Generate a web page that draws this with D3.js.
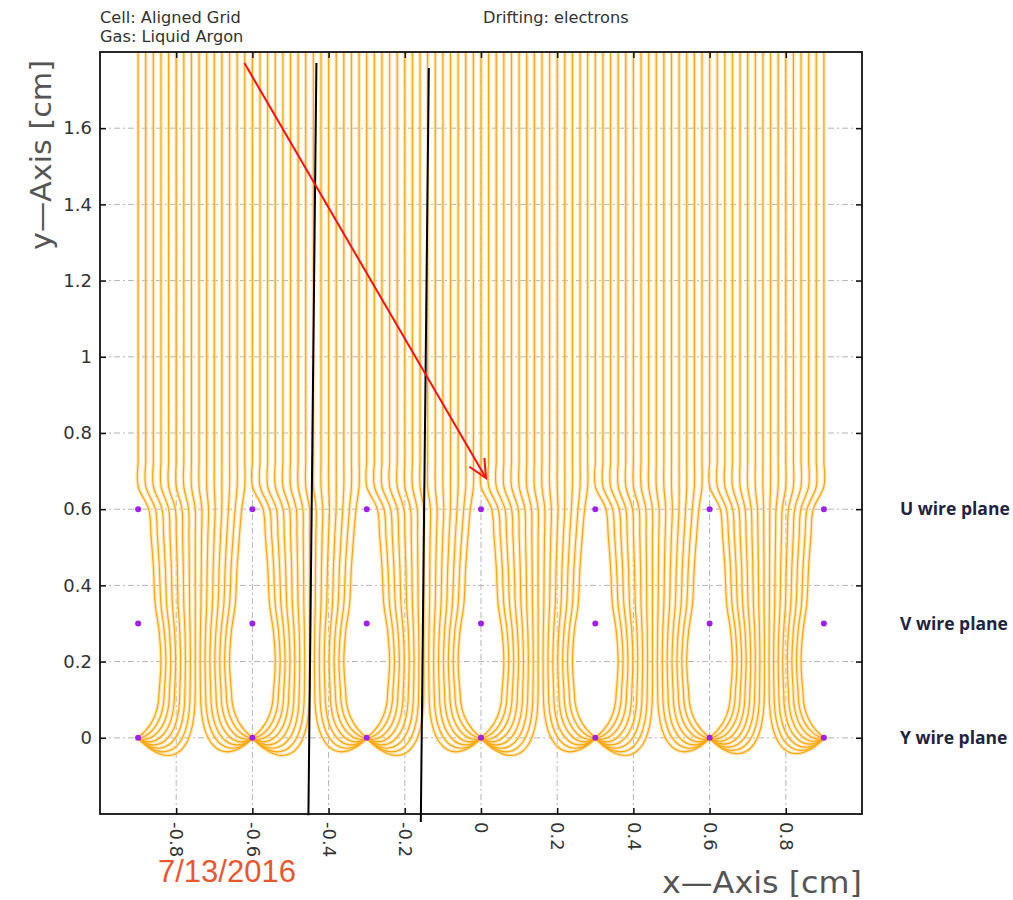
<!DOCTYPE html>
<html>
<head>
<meta charset="utf-8">
<script src="https://cdn.jsdelivr.net/npm/d3@7"></script>
<style>
  body { margin: 0; background: #fff; }
  svg { display: block; }
</style>
</head>
<body>
<svg id="chart" width="1013" height="900"></svg>
<script>
// ---- data -------------------------------------------------------------
const xTicks = [-0.8, -0.6, -0.4, -0.2, 0, 0.2, 0.4, 0.6, 0.8];
const yTicks = [0, 0.2, 0.4, 0.6, 0.8, 1, 1.2, 1.4, 1.6];
const wireX = [-0.9, -0.6, -0.3, 0, 0.3, 0.6, 0.9];
const planeY = [0, 0.3, 0.6];
const planeNames = ["Y wire plane", "V wire plane", "U wire plane"];
// drift line start positions inside one cell (cm right of the cell's left wire)
const cellStartOffsets = [0, 0.02, 0.04, 0.06, 0.08, 0.10, 0.12, 0.14, 0.16, 0.18, 0.20, 0.22, 0.24, 0.26, 0.28];
const lastCellExtraOffsets = [0.30];
const driftTopY = 1.8;
const straightEndY = 0.72;
const bendStartY = 0.66;
// bundle envelope between the wire planes: height and half width (cm)
const envelopeY = [0.60, 0.53, 0.45, 0.35, 0.28, 0.20, 0.12];
const envelopeHalfWidth = [0.122, 0.116, 0.110, 0.105, 0.095, 0.090, 0.095];
const headerLeft = ["Cell: Aligned Grid", "Gas: Liquid Argon"];
const headerRight = "Drifting: electrons";
const arrowX = [-0.621, 0.013];
const arrowY = [1.771, 0.682];
const stripA_X = [-0.432, -0.453];
const stripA_Y = [1.771, -0.203];
const stripB_X = [-0.137, -0.158];
const stripB_Y = [1.758, -0.221];
const dateLabel = "7/13/2016";

// ---- layout -------------------------------------------------------------
const svg = d3.select("#chart");
const x = d3.scaleLinear().domain([-1, 1]).range([100, 862]);
const y = d3.scaleLinear().domain([-0.2, 1.8]).range([814, 52]);
const L = x.range()[0], R = x.range()[1], T = y.range()[1], B = y.range()[0];

svg.append("defs").append("clipPath").attr("id", "plotClip")
  .append("rect").attr("x", L).attr("y", T).attr("width", R - L).attr("height", B - T);

// grid
const grid = svg.append("g").attr("stroke", "#b5b5b5").attr("stroke-width", 1)
  .attr("stroke-dasharray", "6,3,2,3").attr("fill", "none");
grid.selectAll("line.gx").data(xTicks).join("line").attr("class", "gx")
  .attr("x1", d => x(d)).attr("x2", d => x(d)).attr("y1", T).attr("y2", B);
grid.selectAll("line.gy").data(yTicks).join("line").attr("class", "gy")
  .attr("y1", d => y(d)).attr("y2", d => y(d)).attr("x1", L).attr("x2", R);

// drift lines
const cells = d3.range(wireX.length - 1).map(k => ({
  left: wireX[k],
  right: wireX[k + 1],
  offs: k === wireX.length - 2 ? cellStartOffsets.concat(lastCellExtraOffsets) : cellStartOffsets
}));

const bend = d3.line().x(d => x(d[0])).y(d => y(d[1])).curve(d3.curveCatmullRom.alpha(0.5));
const driftPaths = [];
cells.forEach(cell => {
  const n = cell.offs.length;
  const c = (cell.left + cell.right) / 2;
  cell.offs.forEach((o, j) => {
    const x0 = cell.left + o;
    const s = 2 * (j / (n - 1)) - 1;
    const pts = [[x0, straightEndY], [x0, bendStartY]]
      .concat(envelopeY.map((yy, i) => [c + s * envelopeHalfWidth[i], yy]));
    const last = pts[pts.length - 1];
    const xs = last[0];
    const goLeft = s <= 0;
    const wire = goLeft ? cell.left : cell.right;
    const dir = goLeft ? 1 : -1;
    const t = Math.abs(s);
    const dx = Math.abs(xs - wire);
    const top = `M${x(x0)},${y(driftTopY)}`;
    const mid = "L" + bend(pts).slice(1);
    const end = `C${x(xs)},${y(0.04 - 0.115 * (1 - t))},` +
      `${x(wire + dir * dx * (0.2 + 0.25 * (1 - t)))},${y(0.01 - 0.085 * (1 - t))},` +
      `${x(wire)},${y(0)}`;
    driftPaths.push(top + mid + end);
  });
});

const drift = svg.append("g").attr("clip-path", "url(#plotClip)").attr("fill", "none");
drift.selectAll("path.halo").data(driftPaths).join("path").attr("class", "halo")
  .attr("d", d => d).attr("stroke", "#ffd68c").attr("stroke-width", 3.6).attr("stroke-opacity", 0.6);
drift.selectAll("path.core").data(driftPaths).join("path").attr("class", "core")
  .attr("d", d => d).attr("stroke", "#ffa500").attr("stroke-width", 1.15);

// axes (ticks point inward)
const fmt = d => String(d);
const axB = svg.append("g").attr("transform", `translate(0,${B})`)
  .call(d3.axisBottom(x).tickValues(xTicks).tickSizeInner(-6).tickSizeOuter(0).tickFormat(fmt));
axB.selectAll("text")
  .attr("transform", "rotate(90)").attr("y", 0).attr("x", 8).attr("dy", "0.35em")
  .style("text-anchor", "start");
const axT = svg.append("g").attr("transform", `translate(0,${T})`)
  .call(d3.axisTop(x).tickValues(xTicks).tickSizeInner(-6).tickSizeOuter(0).tickFormat(""));
const axL = svg.append("g").attr("transform", `translate(${L},0)`)
  .call(d3.axisLeft(y).tickValues(yTicks).tickSizeInner(-6).tickSizeOuter(0).tickPadding(8).tickFormat(fmt));
const axR = svg.append("g").attr("transform", `translate(${R},0)`)
  .call(d3.axisRight(y).tickValues(yTicks).tickSizeInner(-6).tickSizeOuter(0).tickFormat(""));
[axB, axT, axL, axR].forEach(a => {
  a.select(".domain").remove();
  a.selectAll(".tick line").attr("stroke", "#111").attr("stroke-width", 1.5);
  a.selectAll("text").attr("font-family", "DejaVu Sans").attr("font-size", 18).attr("fill", "#333");
});

svg.append("rect").attr("x", L).attr("y", T).attr("width", R - L).attr("height", B - T)
  .attr("fill", "none").attr("stroke", "#111").attr("stroke-width", 1.8);

// wires
const wires = [];
planeY.forEach(py => wireX.forEach(wx => wires.push([wx, py])));
svg.append("g").selectAll("circle").data(wires).join("circle")
  .attr("cx", d => x(d[0])).attr("cy", d => y(d[1])).attr("r", 3).attr("fill", "#a020f0");

// annotation strips and track arrow
const seg = (xs, ys) => d3.line()(xs.map((v, i) => [x(v), y(ys[i])]));
svg.append("path").attr("d", seg(stripA_X, stripA_Y)).attr("stroke", "#000").attr("stroke-width", 2).attr("fill", "none");
svg.append("path").attr("d", seg(stripB_X, stripB_Y)).attr("stroke", "#000").attr("stroke-width", 2).attr("fill", "none");

const ax0 = x(arrowX[0]), ay0 = y(arrowY[0]), ax1 = x(arrowX[1]), ay1 = y(arrowY[1]);
const ang = Math.atan2(ay1 - ay0, ax1 - ax0);
const head = 20, spread = 0.45;
svg.append("path").attr("d", `M${ax0},${ay0}L${ax1},${ay1}`)
  .attr("stroke", "#ff1010").attr("stroke-width", 2).attr("fill", "none");
svg.append("path")
  .attr("d", `M${ax1 - head * Math.cos(ang - spread)},${ay1 - head * Math.sin(ang - spread)}L${ax1},${ay1}L${ax1 - head * Math.cos(ang + spread)},${ay1 - head * Math.sin(ang + spread)}`)
  .attr("stroke", "#ff1010").attr("stroke-width", 2).attr("fill", "none");

// header text
svg.append("g").selectAll("text").data(headerLeft).join("text")
  .attr("x", 100).attr("y", (d, i) => 23 + i * 19).text(d => d)
  .attr("font-family", "DejaVu Sans").attr("font-size", 16.2).attr("fill", "#333");
svg.append("text").attr("x", 483).attr("y", 23).text(headerRight)
  .attr("font-family", "DejaVu Sans").attr("font-size", 16.2).attr("fill", "#333");

// axis titles
svg.append("text").attr("transform", `translate(51,155) rotate(-90)`).attr("text-anchor", "middle")
  .attr("textLength", 190).attr("lengthAdjust", "spacingAndGlyphs")
  .text("y\u2014Axis [cm]").attr("font-family", "DejaVu Sans").attr("font-size", 28).attr("fill", "#555");
svg.append("text").attr("x", 862).attr("y", 893).attr("text-anchor", "end")
  .attr("textLength", 200).attr("lengthAdjust", "spacingAndGlyphs")
  .text("x\u2014Axis [cm]").attr("font-family", "DejaVu Sans").attr("font-size", 30).attr("fill", "#555");

// wire plane names
svg.append("g").selectAll("text").data(planeY).join("text")
  .attr("x", 900).attr("y", d => y(d)).attr("dy", "0.35em").text((d, i) => planeNames[i])
  .attr("font-family", "Open Sans").attr("font-weight", 700).attr("font-size", 17.5).attr("fill", "#1f2440");

// date
svg.append("text").attr("x", 158).attr("y", 882).text(dateLabel)
  .attr("font-family", "Liberation Sans").attr("font-size", 31).attr("fill", "#e9572f");
</script>
</body>
</html>
